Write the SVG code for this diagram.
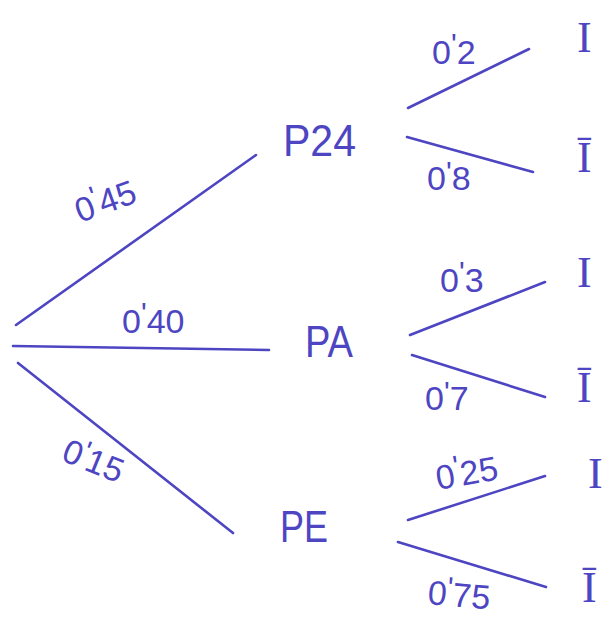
<svg xmlns="http://www.w3.org/2000/svg" width="611" height="617" viewBox="0 0 611 617">
  <style>
    .ln { stroke: #4d45c2; stroke-width: 2.6; stroke-linecap: round; fill: none; }
    .lbl { font-family: "Liberation Sans", "DejaVu Sans", sans-serif; font-size: 34px; fill: #4d45c2; }
    .ap { font-size: 30px; }
    .node { font-family: "Liberation Sans", "DejaVu Sans", sans-serif; font-size: 44px; fill: #4d45c2; }
    .leaf { font-family: "Liberation Serif", "DejaVu Serif", serif; font-size: 44px; fill: #4d45c2; }
  </style>
  <rect width="611" height="617" fill="#ffffff"/>
  <g id="connectors">
    <line class="ln" x1="16" y1="325" x2="256" y2="155"/>
    <line class="ln" x1="13" y1="346" x2="269" y2="350"/>
    <line class="ln" x1="18" y1="363" x2="233" y2="533"/>
    <line class="ln" x1="408" y1="108" x2="529" y2="49"/>
    <line class="ln" x1="407" y1="137" x2="533" y2="172"/>
    <line class="ln" x1="410" y1="335" x2="545" y2="282"/>
    <line class="ln" x1="412" y1="355" x2="545" y2="397"/>
    <line class="ln" x1="408" y1="520" x2="545" y2="476"/>
    <line class="ln" x1="398" y1="542" x2="546" y2="587"/>
    <g id="edge-labels">
      <text class="lbl" transform="translate(80,223) rotate(-20)">0<tspan class="ap" dy="-10">'</tspan><tspan dy="10">45</tspan></text>
      <text class="lbl" x="122" y="333" font-size="36">0<tspan class="ap" dy="-10">'</tspan><tspan dy="10">40</tspan></text>
      <text class="lbl" transform="translate(60,460) rotate(22)">0<tspan class="ap" dy="-8">'</tspan><tspan dy="8">15</tspan></text>
      <text class="lbl" x="432" y="64">0<tspan class="ap" dy="-10">'</tspan><tspan dy="10">2</tspan></text>
      <text class="lbl" x="427" y="190">0<tspan class="ap" dy="-8">'</tspan><tspan dy="8">8</tspan></text>
      <text class="lbl" x="440" y="292">0<tspan class="ap" dy="-10">'</tspan><tspan dy="10">3</tspan></text>
      <text class="lbl" x="425" y="410">0<tspan class="ap" dy="-8">'</tspan><tspan dy="8">7</tspan></text>
      <text class="lbl" transform="translate(438,490) rotate(-10)" font-size="32">0<tspan class="ap" dy="-10">'</tspan><tspan dy="10">25</tspan></text>
      <text class="lbl" transform="translate(427,604) rotate(5)" font-size="32">0<tspan class="ap" dy="-8">'</tspan><tspan dy="8">75</tspan></text>
    </g>
  </g>
  <g id="node-P24"><text class="node" x="283" y="156" textLength="73" lengthAdjust="spacingAndGlyphs">P24</text></g>
  <g id="node-PA"><text class="node" x="305" y="357" textLength="48" lengthAdjust="spacingAndGlyphs">PA</text></g>
  <g id="node-PE"><text class="node" x="280" y="542" textLength="48" lengthAdjust="spacingAndGlyphs">PE</text></g>
  <g id="leaf-P24-I"><text class="leaf" x="577" y="52">I</text></g>
  <g id="leaf-P24-notI"><text class="leaf" x="577" y="172">Ī</text></g>
  <g id="leaf-PA-I"><text class="leaf" x="577" y="287">I</text></g>
  <g id="leaf-PA-notI"><text class="leaf" x="577" y="402">Ī</text></g>
  <g id="leaf-PE-I"><text class="leaf" x="588" y="488">I</text></g>
  <g id="leaf-PE-notI"><text class="leaf" x="582" y="602">Ī</text></g>
</svg>
